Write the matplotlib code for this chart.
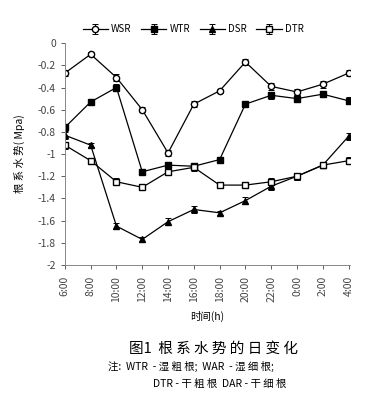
import matplotlib
matplotlib.use("Agg")
from matplotlib import pyplot as plt

plt.rcParams['font.family'] = ['Noto Sans CJK SC', 'DejaVu Sans']

times = ["6:00", "8:00", "10:00", "12:00", "14:00", "16:00", "18:00",
         "20:00", "22:00", "0:00", "2:00", "4:00"]
wsr = [-0.27, -0.10, -0.31, -0.60, -0.99, -0.55, -0.43, -0.17, -0.39, -0.44, -0.37, -0.27]
wtr = [-0.76, -0.53, -0.40, -1.16, -1.10, -1.11, -1.05, -0.55, -0.47, -0.50, -0.46, -0.52]
dsr = [-0.83, -0.92, -1.65, -1.77, -1.61, -1.50, -1.53, -1.42, -1.29, -1.20, -1.10, -0.84]
dtr = [-0.92, -1.06, -1.25, -1.30, -1.16, -1.12, -1.28, -1.28, -1.25, -1.20, -1.10, -1.06]
err = [0.03, 0.02, 0.03, 0.02, 0.03, 0.03, 0.02, 0.03, 0.03, 0.03, 0.03, 0.03]

fig = plt.figure(figsize=(3.75, 3.96), dpi=100)
ax = fig.add_axes([0.173, 0.331, 0.76, 0.56])

x = list(range(len(times)))
series = [
    ("WSR", wsr, dict(marker="o", mfc="white", ms=4.5)),
    ("WTR", wtr, dict(marker="s", mfc="black", ms=4.5)),
    ("DSR", dsr, dict(marker="^", mfc="black", ms=5)),
    ("DTR", dtr, dict(marker="s", mfc="white", ms=5)),
]
for name, vals, st in series:
    ax.errorbar(x, vals, yerr=err, color="black", lw=0.9, mec="black",
                capsize=2.5, elinewidth=0.7, capthick=0.7, label=name, **st)

ax.set_xlim(0, len(times) - 1 + 0.05)
ax.set_ylim(-2, 0)
ax.set_yticks([0, -0.2, -0.4, -0.6, -0.8, -1, -1.2, -1.4, -1.6, -1.8, -2])
ax.set_yticklabels(["0", "-0.2", "-0.4", "-0.6", "-0.8", "-1", "-1.2", "-1.4",
                    "-1.6", "-1.8", "-2"])
ax.set_xticks(x)
ax.set_xticklabels(times, rotation=90)
ax.tick_params(labelsize=7.5, colors="#444444", length=3, width=0.6)
ax.tick_params(axis="x", pad=5)
for s in ["top", "right"]:
    ax.spines[s].set_visible(False)
for s in ["left", "bottom"]:
    ax.spines[s].set_color("#888888")
    ax.spines[s].set_linewidth(0.7)

ax.set_ylabel("根 系 水 势( Mpa)", fontsize=7.5, labelpad=9)
ax.set_xlabel("时间(h)", fontsize=7.5, labelpad=6)

ax.legend(loc="lower center", bbox_to_anchor=(0.45, 1.0), ncol=4, frameon=False,
          fontsize=7, handlelength=2.6, columnspacing=1.0, handletextpad=0.3)

fig.text(0.57, 0.11, "图1  根 系 水 势 的 日 变 化", ha="center", fontsize=10.5)
fig.text(0.51, 0.065, "注:  WTR  - 湿 粗 根;  WAR  - 湿 细 根;", ha="center", fontsize=7.5)
fig.text(0.585, 0.022, "DTR - 干 粗 根  DAR - 干 细 根", ha="center", fontsize=7.5)

fig.savefig("out.png", dpi=100)
